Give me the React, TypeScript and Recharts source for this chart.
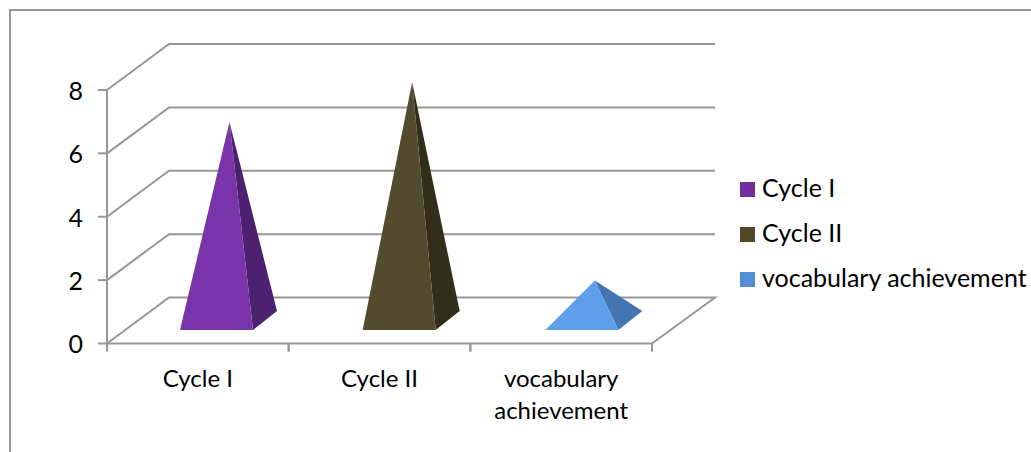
import React from 'react';
import { Bar, BarChart, CartesianGrid, Legend, Text, XAxis, YAxis } from 'recharts';

const categories = ['Cycle I', 'Cycle II', 'vocabulary achievement'];
const cycleOneValues = [6.28, null, null];
const cycleTwoValues = [null, 7.54, null];
const vocabularyValues = [null, null, 1.28];
const yTicks = [0, 2, 4, 6, 8];

const data = categories.map((category, i) => ({
  category,
  'Cycle I': cycleOneValues[i],
  'Cycle II': cycleTwoValues[i],
  'vocabulary achievement': vocabularyValues[i],
}));

const FONT = 'Lato, sans-serif';
const LINE = '#979797';
// fake 3d depth of the floor
const DEPTH_X = 62;
const DEPTH_Y = 46;

const renderGridLine = (props: any) => {
  const { x1, x2, y1, key } = props;
  const backRight = x2 + DEPTH_X + 1;
  let points = `${x1},${y1} ${x1 + DEPTH_X},${y1 - DEPTH_Y} ${backRight},${y1 - DEPTH_Y}`;
  // the floor also closes on the right
  if (Math.abs(y1 - 343.5) < 2) points += ` ${x2},${y1}`;
  return <polyline key={key} points={points} fill="none" stroke={LINE} strokeWidth={2} />;
};

const pyramid = (front: string, side: string, nudge: number) => (props: any) => {
  const { x, y, width, height } = props;
  if (!height || height <= 0) return <g />;
  const left = x + 18.5 + nudge;
  const right = left + width;
  const baseY = y + height - 13.5;
  const apexX = left + width / 2 + 13;
  const apexY = y - 22.5;
  return (
    <g>
      <polygon points={`${right},${baseY} ${right + 24},${baseY - 19} ${apexX},${apexY}`} fill={side} />
      <polygon points={`${left},${baseY} ${right},${baseY} ${apexX},${apexY}`} fill={front} />
    </g>
  );
};

const CategoryTick = (props: any) => {
  const { x, y, payload, width } = props;
  const band = width / categories.length;
  return (
    <g>
      <line x1={x - band / 2} x2={x - band / 2} y1={y - 8} y2={y} stroke={LINE} strokeWidth={2} />
      <line x1={x + band / 2} x2={x + band / 2} y1={y - 8} y2={y} stroke={LINE} strokeWidth={2} />
      <Text
        x={x}
        y={y + 18}
        width={150}
        textAnchor="middle"
        verticalAnchor="start"
        lineHeight={32}
        fontFamily={FONT}
        fontSize={24}
        fill="#000"
      >
        {payload.value}
      </Text>
    </g>
  );
};

export default function App() {
  return (
    <div style={{ position: 'absolute', left: 0, top: 0, width: 1031, height: 452, overflow: 'hidden', background: '#fff' }}>
      <div
        style={{
          position: 'absolute',
          left: 9,
          top: 9,
          width: 1030,
          height: 450,
          borderLeft: `2px solid ${LINE}`,
          borderTop: `2px solid ${LINE}`,
        }}
      />
      <BarChart
        width={1031}
        height={452}
        data={data}
        barCategoryGap="30%"
        margin={{ top: 90, right: 87, bottom: 0, left: 60 }}
        style={{ position: 'absolute', left: 0, top: 0 }}
      >
        <CartesianGrid vertical={false} horizontal={renderGridLine} />
        <XAxis
          dataKey="category"
          height={108.5}
          axisLine={{ stroke: LINE, strokeWidth: 2 }}
          tickLine={false}
          tick={<CategoryTick />}
          interval={0}
        />
        <YAxis
          width={47}
          domain={[0, 8]}
          ticks={yTicks}
          axisLine={{ stroke: LINE, strokeWidth: 2 }}
          tickLine={{ stroke: LINE, strokeWidth: 2 }}
          tickSize={9}
          tickMargin={15}
          tick={{ fontFamily: FONT, fontSize: 25, fill: '#000', dy: 1 }}
        />
        <Legend
          layout="vertical"
          align="right"
          verticalAlign="top"
          iconType="square"
          iconSize={15}
          itemSorter={null}
          formatter={(value: string) => (
            <span
              style={{
                color: '#000',
                fontFamily: FONT,
                fontSize: 25,
                lineHeight: '45px',
                marginLeft: 3,
                position: 'relative',
                top: 4,
                whiteSpace: 'nowrap',
              }}
            >
              {value}
            </span>
          )}
          wrapperStyle={{ left: 740, top: 161, width: 292, right: 'auto', whiteSpace: 'nowrap' }}
        />
        <Bar dataKey="Cycle I" stackId="a" fill="#7030a0" shape={pyramid('#7A34A9', '#4E2170', 0)} isAnimationActive={false} />
        <Bar dataKey="Cycle II" stackId="a" fill="#4f4726" shape={pyramid('#534B2D', '#332E1A', 1)} isAnimationActive={false} />
        <Bar dataKey="vocabulary achievement" stackId="a" fill="#558ed5" shape={pyramid('#5E9EEA', '#4375B0', 2)} isAnimationActive={false} />
      </BarChart>
    </div>
  );
}
